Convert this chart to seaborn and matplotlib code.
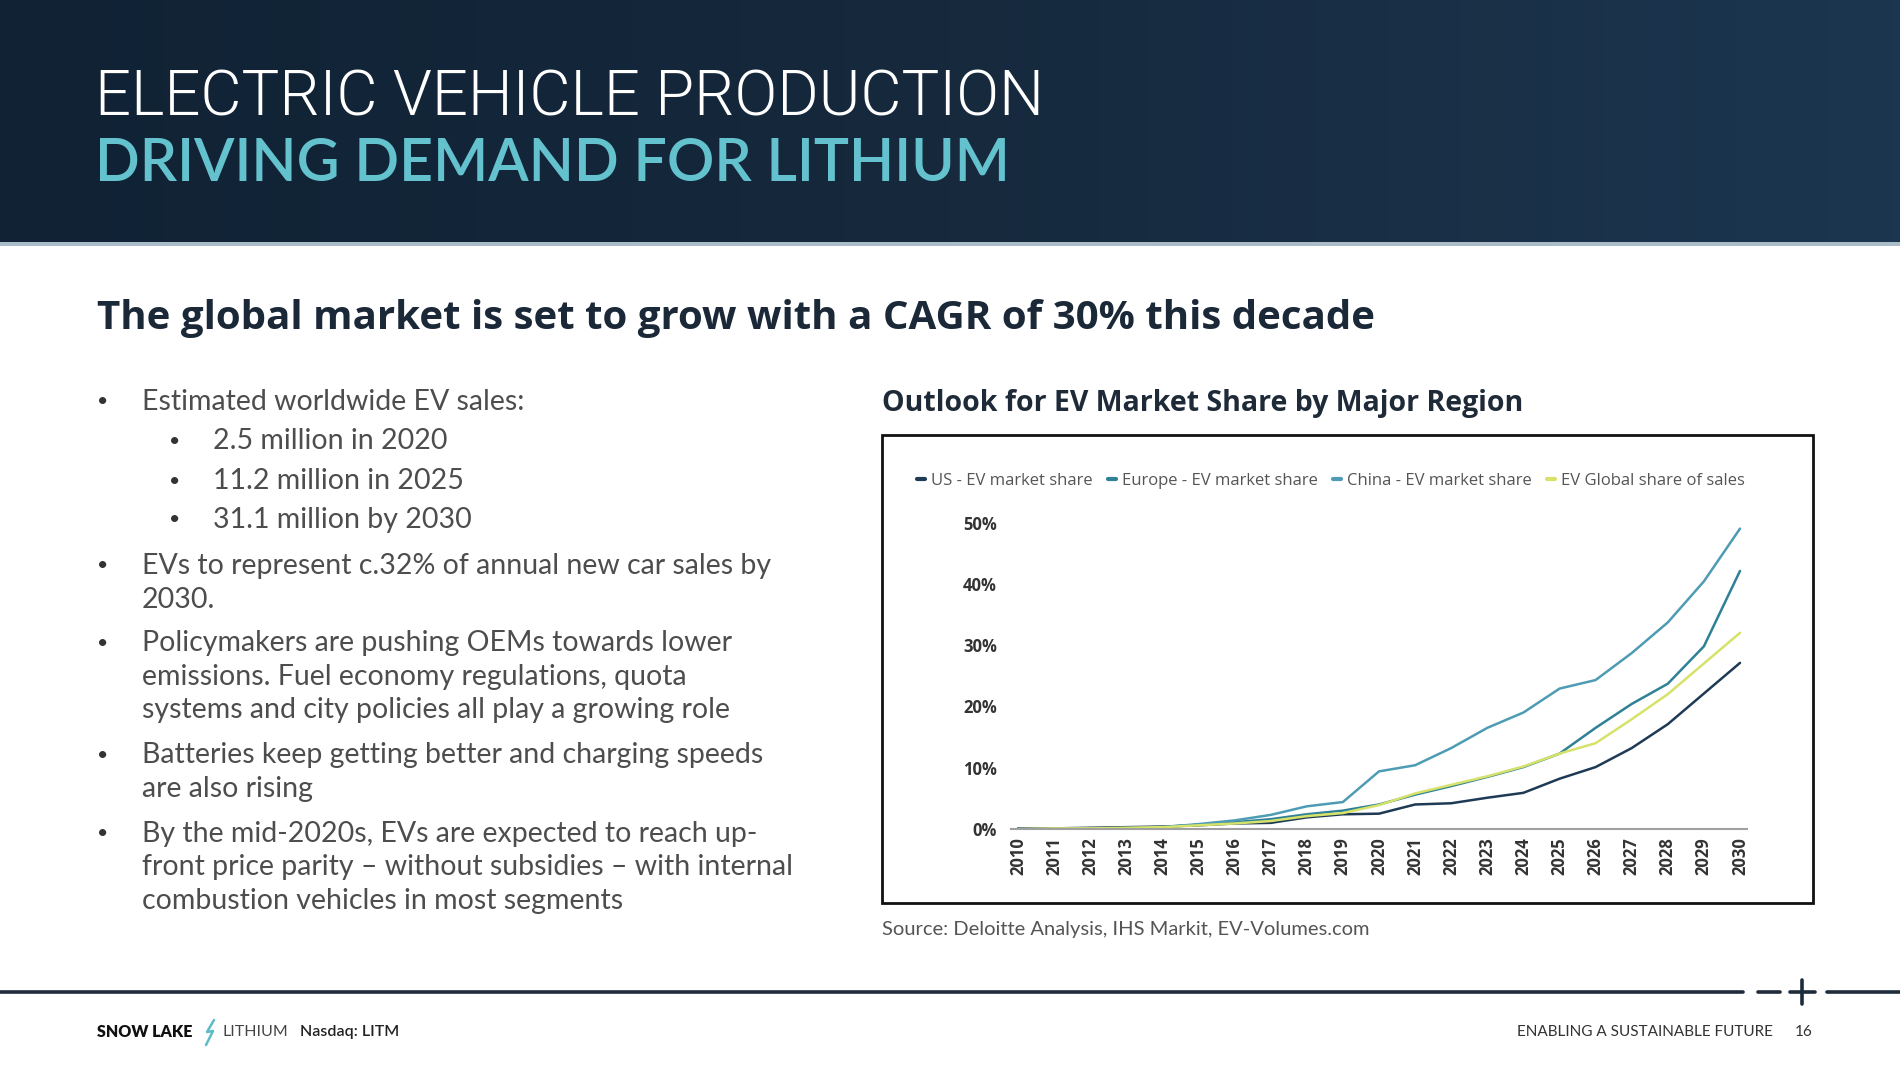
import numpy as np
import pandas as pd
import matplotlib
matplotlib.use('Agg')
import matplotlib.pyplot as plt
from matplotlib import font_manager as fm
from matplotlib.patches import Rectangle
from matplotlib.lines import Line2D
from matplotlib.colors import LinearSegmentedColormap
import seaborn as sns

# --- данные ---
years = list(range(2010, 2031))
us_share = [0.1, 0.1, 0.2, 0.3, 0.4, 0.6, 0.9, 1.0, 1.9, 2.4, 2.5, 4.0, 4.2, 5.1, 5.9,
            8.2, 10.1, 13.2, 17.1, 22.1, 27.1]
europe_share = [0.0, 0.0, 0.1, 0.2, 0.3, 0.7, 1.1, 1.6, 2.4, 3.0, 4.0, 5.6, 7.0, 8.5, 10.1,
                12.3, 16.5, 20.4, 23.7, 29.8, 42.1]
china_share = [0.0, 0.0, 0.1, 0.1, 0.3, 0.8, 1.4, 2.3, 3.7, 4.4, 9.4, 10.4, 13.2, 16.5, 19.0,
               22.9, 24.3, 28.7, 33.7, 40.4, 49.0]
global_share = [0.0, 0.1, 0.1, 0.2, 0.3, 0.6, 0.9, 1.3, 2.1, 2.6, 3.9, 5.8, 7.2, 8.6, 10.2,
                12.3, 14.0, 17.9, 22.0, 27.0, 32.0]
series_names = ['US - EV market share', 'Europe - EV market share',
                'China - EV market share', 'EV Global share of sales']
series_colors = ['#1e3a55', '#2f8196', '#4e9cb4', '#d6e26a']
y_ticks = [0, 10, 20, 30, 40, 50]

bullets = [
    (0, ['Estimated worldwide EV sales:']),
    (1, ['2.5 million in 2020']),
    (1, ['11.2 million in 2025']),
    (1, ['31.1 million by 2030']),
    (0, ['EVs to represent c.32% of annual new car sales by', '2030.']),
    (0, ['Policymakers are pushing OEMs towards lower',
         'emissions. Fuel economy regulations, quota',
         'systems and city policies all play a growing role']),
    (0, ['Batteries keep getting better and charging speeds', 'are also rising']),
    (0, ['By the mid-2020s, EVs are expected to reach up-',
         'front price parity \u2013 without subsidies \u2013 with internal',
         'combustion vehicles in most segments']),
]
bullet_y = [402, 441, 481, 520, 566, 643, 755, 834]

df = pd.DataFrame({
    'year': years * 4,
    'share': us_share + europe_share + china_share + global_share,
    'series': sum([[n] * len(years) for n in series_names], []),
})

# --- шрифты ---
sns.set_theme(style='white')
names = {f.name for f in fm.fontManager.ttflist}
narrow = 'Liberation Sans Narrow' if 'Liberation Sans Narrow' in names else 'Open Sans'
plt.rcParams['font.family'] = ['Lato', 'DejaVu Sans']

W, H = 1900, 1067
fig = plt.figure(figsize=(W / 100, H / 100), dpi=100)
fig.patch.set_facecolor('white')


def fx(x):
    return x / W


def fy(y):
    return 1 - y / H


# шапка
hdr = fig.add_axes([0, fy(242), 1, 242 / H])
grad = np.linspace(0, 1, 256).reshape(1, -1)
cm = LinearSegmentedColormap.from_list('hdr', ['#102234', '#16293d', '#1c3650'])
hdr.imshow(grad, aspect='auto', cmap=cm, extent=[0, 1, 0, 1])
hdr.axis('off')
fig.add_artist(Rectangle((0, fy(246)), 1, 4 / H, transform=fig.transFigure,
                         color='#a9bcc8', lw=0))

fig.text(fx(95), fy(116), 'ELECTRIC VEHICLE PRODUCTION', color='white',
         fontsize=45.5, fontfamily=['Roboto', 'DejaVu Sans'], fontweight=300,
         va='baseline', ha='left')
fig.text(fx(95), fy(181), 'DRIVING DEMAND FOR LITHIUM', color='#63c2cd',
         fontsize=42.5, fontweight='semibold', va='baseline', ha='left')

fig.text(fx(97), fy(318), 'The global market is set to grow with a CAGR of 30% this decade',
         color='#1b2838', fontsize=29, fontfamily=['Open Sans', 'DejaVu Sans'],
         fontweight='bold', va='center', ha='left')

# буллеты
for (lvl, lines), y0 in zip(bullets, bullet_y):
    bx = 103 if lvl == 0 else 175
    tx = 142 if lvl == 0 else 213
    fig.text(fx(bx), fy(y0), '\u2022', color='#333333', fontsize=14, va='center', ha='center')
    for i, ln in enumerate(lines):
        fig.text(fx(tx), fy(y0 + i * 33.5), ln, color='#4d4d4d', fontsize=20.5,
                 fontweight='normal', va='center', ha='left')

fig.text(fx(882), fy(404), 'Outlook for EV Market Share by Major Region', color='#1e2a38',
         fontsize=20.5, fontfamily=['Open Sans', 'DejaVu Sans'], fontweight='bold',
         va='center', ha='left')

fig.add_artist(Rectangle((fx(882), fy(903)), fx(1813) - fx(882), (903 - 435) / H,
                         transform=fig.transFigure, fill=False, edgecolor='#111111', lw=2))

# график
x0, x1 = 2009.8, 2030.2
px_year = (1740 - 1018) / 20
left = 1018 - 0.2 * px_year
right = 1740 + 0.2 * px_year
px_pct = 6.13
top = 829 - 52 * px_pct
ax = fig.add_axes([fx(left), fy(829), (right - left) / W, (829 - top) / H])
sns.lineplot(data=df, x='year', y='share', hue='series', palette=series_colors,
             hue_order=series_names, linewidth=1.8, ax=ax, legend=True)
ax.set_xlim(x0, x1)
ax.set_ylim(0, 52)
ax.set_xticks(years)
ax.set_xticklabels([str(y) for y in years], rotation=90, fontfamily=narrow,
                   fontweight='bold', fontsize=12, color='#333333')
ax.set_yticks(y_ticks)
ax.set_yticklabels([f'{v}%' for v in y_ticks], fontfamily=narrow,
                   fontweight='bold', fontsize=12, color='#333333')
ax.tick_params(axis='x', length=0, pad=6)
ax.tick_params(axis='y', length=0, pad=10)
ax.set_xlabel('')
ax.set_ylabel('')
for s in ['top', 'right', 'left']:
    ax.spines[s].set_visible(False)
ax.spines['bottom'].set_color('#a0a0a0')
ax.spines['bottom'].set_linewidth(1.5)
ax.patch.set_alpha(0)

handles, labels = ax.get_legend_handles_labels()
leg = ax.legend(handles, labels, loc='center', bbox_to_anchor=(fx(1331), fy(481)),
                bbox_transform=fig.transFigure, ncol=4, frameon=False,
                handlelength=0.5, handletextpad=0.35, columnspacing=0.9,
                prop={'family': narrow, 'size': 12})
for t in leg.get_texts():
    t.set_color('#555555')
for h in leg.get_lines():
    h.set_linewidth(3)

fig.text(fx(882), fy(930), 'Source: Deloitte Analysis, IHS Markit, EV-Volumes.com',
         color='#555555', fontsize=14.5, fontweight='normal', va='center', ha='left')

# подвал
navy = '#1d2b3a'
for xa, xb in [(0, 1743), (1758, 1780), (1790, 1815), (1827, 1900)]:
    fig.add_artist(Line2D([fx(xa), fx(xb)], [fy(992), fy(992)], transform=fig.transFigure,
                          color=navy, lw=2.6))
fig.add_artist(Line2D([fx(1802), fx(1802)], [fy(980), fy(1004)], transform=fig.transFigure,
                      color=navy, lw=2.6))

fig.text(fx(97), fy(1032), 'SNOW LAKE', color='#111111', fontsize=11.5, fontweight='heavy',
         va='center', ha='left')
fig.add_artist(Line2D([fx(214), fx(207), fx(213), fx(206)],
                      [fy(1020), fy(1032), fy(1031), fy(1045)],
                      transform=fig.transFigure, color='#5bbcc8', lw=1.8))
fig.text(fx(223), fy(1032), 'LITHIUM', color='#444444', fontsize=11.5, fontweight='normal',
         va='center', ha='left')
fig.text(fx(300), fy(1032), 'Nasdaq: LITM', color='#222222', fontsize=11.5,
         fontweight='semibold', va='center', ha='left')
fig.text(fx(1773), fy(1032), 'ENABLING A SUSTAINABLE FUTURE', color='#333333', fontsize=11,
         fontweight='normal', va='center', ha='right')
fig.text(fx(1813), fy(1032), '16', color='#333333', fontsize=11, va='center', ha='right')

fig.savefig('out.png', dpi=100)
